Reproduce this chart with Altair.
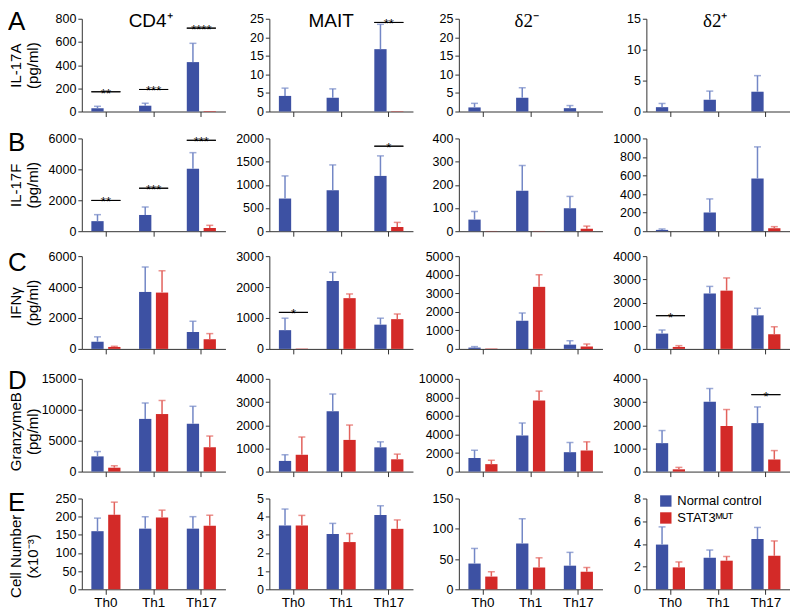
import altair as alt
import pandas as pd

CELLS = ["Th0", "Th1", "Th17"]
GROUPS = ["Normal control", "STAT3ᴹᵁᵀ"]
SUBSETS = ["CD4⁺", "MAIT", "δ2⁻", "δ2⁺"]
SUBSET_FONTS = ["Liberation Sans", "Liberation Sans", "Liberation Serif", "Liberation Serif"]
READOUTS = ["IL-17A", "IL-17F", "IFNγ", "GranzymeB", "Cell Number"]
UNITS = ["(pg/ml)", "(pg/ml)", "(pg/ml)", "(pg/ml)", "(x10⁻³)"]
LETTERS = ["A", "B", "C", "D", "E"]

# y-axis maximum and tick step, per readout (row) and subset (column)
Y_MAX = [[800, 25, 25, 15], [6000, 2000, 400, 1000], [6000, 3000, 5000, 4000],
         [15000, 4000, 10000, 4000], [250, 5, 150, 8]]
Y_STEP = [[200, 5, 5, 5], [2000, 500, 100, 200], [2000, 1000, 1000, 1000],
          [5000, 1000, 2000, 1000], [50, 1, 50, 2]]

# means and error (upper whisker length); outer list = subset, inner = Th0, Th1, Th17
IL17A_NC = [[28, 50, 426], [4.2, 3.7, 16.8], [1.1, 3.7, 0.9], [0.7, 1.9, 3.2]]
IL17A_NC_ERR = [[17, 22, 162], [2.1, 2.4, 6.7], [1.1, 2.7, 0.7], [0.6, 1.4, 2.6]]
IL17A_MUT = [[0, 0, 5], [0, 0, 0.1], [0, 0, 0], [0, 0, 0]]
IL17A_MUT_ERR = [[0, 0, 0], [0, 0, 0], [0, 0, 0], [0, 0, 0]]

IL17F_NC = [[650, 1050, 4040], [704, 885, 1192], [50, 174, 99], [14, 202, 568]]
IL17F_NC_ERR = [[420, 520, 1040], [488, 544, 432], [35, 109, 51], [10, 146, 341]]
IL17F_MUT = [[0, 0, 210], [0, 0, 90], [1, 1, 11], [0, 0, 31]]
IL17F_MUT_ERR = [[0, 0, 170], [0, 0, 100], [0, 0, 11], [0, 0, 18]]

IFNG_NC = [[463, 3684, 1095], [606, 2195, 784], [70, 1514, 229], [660, 2386, 1446]]
IFNG_NC_ERR = [[316, 1621, 694], [387, 282, 209], [53, 423, 211], [154, 309, 308]]
IFNG_MUT = [[126, 3642, 632], [10, 1641, 962], [20, 3345, 123], [84, 2512, 632]]
IFNG_MUT_ERR = [[42, 1411, 357], [0, 136, 167], [0, 651, 141], [56, 548, 322]]

GZMB_NC = [[2457, 8519, 7735], [460, 2606, 1045], [1463, 3902, 2090], [1226, 3010, 2090]]
GZMB_NC_ERR = [[783, 2561, 2822], [265, 739, 237], [837, 1324, 1046], [544, 572, 697]]
GZMB_MUT = [[627, 9303, 3920], [725, 1366, 530], [801, 7666, 2265], [98, 1965, 516]]
GZMB_MUT_ERR = [[314, 2194, 1829], [766, 641, 223], [419, 1010, 941], [83, 711, 390]]

CELLN_NC = [[160, 167, 167], [3.51, 3.04, 4.09], [42.5, 75.5, 39], [3.94, 2.78, 4.43]]
CELLN_NC_ERR = [[36, 33, 33], [0.91, 0.59, 0.51], [25, 41, 22], [1.56, 0.68, 1.02]]
CELLN_MUT = [[205, 198, 175], [3.51, 2.6, 3.33], [21, 36, 29], [1.93, 2.52, 2.95]]
CELLN_MUT_ERR = [[35, 20, 29], [0.56, 0.47, 0.49], [8, 16, 7], [0.48, 0.37, 1.31]]

SERIES = [
    (IL17A_NC, IL17A_NC_ERR, IL17A_MUT, IL17A_MUT_ERR),
    (IL17F_NC, IL17F_NC_ERR, IL17F_MUT, IL17F_MUT_ERR),
    (IFNG_NC, IFNG_NC_ERR, IFNG_MUT, IFNG_MUT_ERR),
    (GZMB_NC, GZMB_NC_ERR, GZMB_MUT, GZMB_MUT_ERR),
    (CELLN_NC, CELLN_NC_ERR, CELLN_MUT, CELLN_MUT_ERR),
]

# significance brackets: (row, subset, cell, bracket level, stars)
SIG = [
    (0, 0, "Th0", 170, "**"), (0, 0, "Th1", 190, "***"), (0, 0, "Th17", 719, "****"),
    (0, 1, "Th17", 24, "**"),
    (1, 0, "Th0", 1990, "**"), (1, 0, "Th1", 2780, "***"), (1, 0, "Th17", 5880, "***"),
    (1, 1, "Th17", 1833, "*"),
    (2, 1, "Th0", 1181, "*"), (2, 3, "Th0", 1432, "*"),
    (3, 3, "Th17", 3317, "*"),
]

BLUE, RED = "#3D51A3", "#D32A28"
BLUE_ERR, RED_ERR = "#7387C6", "#E2625C"
FONT = "Liberation Sans"
W, H, HE = 144, 93, 91
HEADER_DX = [-3, -10, -4, -3]          # header nudges per column
LETTER_Y = [-10, -8, -6, -11, -8]      # panel-letter top per row
TITLE_DY = [0, 0, 0, 6, 12]            # y-title nudges per row


def panel(r, s):
    nc, nce, mu, mue = SERIES[r]
    rows = []
    for i, c in enumerate(CELLS):
        rows.append(dict(cell=c, group=GROUPS[0], mean=nc[s][i], err=nce[s][i],
                         top=nc[s][i] + nce[s][i]))
        rows.append(dict(cell=c, group=GROUPS[1], mean=mu[s][i], err=mue[s][i],
                         top=mu[s][i] + mue[s][i]))
    df = pd.DataFrame(rows)
    h = HE if r == 4 else H
    ymax, step = Y_MAX[r][s], Y_STEP[r][s]

    yscale = alt.Scale(domain=[0, ymax], nice=False, zero=True)
    xscale = alt.Scale(domain=CELLS, paddingInner=0.39, paddingOuter=0.2)
    oscale = alt.Scale(domain=GROUPS, paddingInner=0.27, paddingOuter=0)

    common_y = dict(values=list(range(0, ymax + 1, step)), format="d", grid=False,
                    tickSize=4, labelPadding=2, minExtent=39, maxExtent=39)
    if s == 0:
        yaxis = alt.Axis(title=[READOUTS[r], UNITS[r]], titleFontSize=15,
                         titleLineHeight=17, titleFont=FONT, titleFontWeight="normal",
                         titlePadding=2, titleY=h / 2 + TITLE_DY[r], **common_y)
    else:
        yaxis = alt.Axis(title=None, **common_y)
    xaxis = alt.Axis(title=None, labels=(r == 4), ticks=True, tickSize=5, labelPadding=1,
                     labelFontSize=13.5, labelAngle=0, grid=False, domain=True)

    if r == 4 and s == 3:
        leg = alt.Legend(title=None, orient="none", legendX=13, legendY=-4,
                         symbolType="square", symbolSize=130, labelFontSize=13,
                         labelFont=FONT, rowPadding=3, padding=0, labelOffset=5,
                         symbolStrokeWidth=0)
    else:
        leg = None

    X = lambda: alt.X("cell:N", scale=xscale, axis=xaxis, sort=CELLS)
    XO = lambda: alt.XOffset("group:N", scale=oscale, sort=GROUPS)
    Y = lambda f: alt.Y(f, scale=yscale, axis=yaxis, stack=None)

    layers = [
        alt.Chart(df).mark_bar().encode(
            x=X(), xOffset=XO(), y=Y("mean:Q"),
            color=alt.Color("group:N", scale=alt.Scale(domain=GROUPS, range=[BLUE, RED]),
                            legend=leg),
        )
    ]
    for g, col in zip(GROUPS, [BLUE_ERR, RED_ERR]):
        d = df[(df.group == g) & (df.err > 0)]
        if len(d) == 0:
            continue
        layers.append(alt.Chart(d).mark_rule(color=col, strokeWidth=1.5).encode(
            x=X(), xOffset=XO(), y=Y("mean:Q"), y2="top:Q"))
        layers.append(alt.Chart(d).mark_tick(color=col, size=7, thickness=1.5).encode(
            x=X(), xOffset=XO(), y=Y("top:Q")))

    sig = [dict(cell=c, level=lv, stars=st) for (rr, ss, c, lv, st) in SIG if rr == r and ss == s]
    if sig:
        sdf = pd.DataFrame(sig)
        layers.append(alt.Chart(sdf).mark_bar(fillOpacity=0, stroke="black", strokeWidth=1).encode(
            x=X(), y=Y("level:Q"), y2="level:Q"))
        layers.append(alt.Chart(sdf).mark_text(fontSize=13, dy=2, font=FONT, color="black").encode(
            x=X(), y=Y("level:Q"), text="stars:N"))

    if r == 0:
        layers.append(alt.Chart(pd.DataFrame({"t": [SUBSETS[s]]})).mark_text(
            fontSize=19, font=SUBSET_FONTS[s], align="center", baseline="alphabetic",
            color="black").encode(x=alt.value(W / 2 + HEADER_DX[s]), y=alt.value(8),
                                  text="t:N"))
    if s == 0:
        layers.append(alt.Chart(pd.DataFrame({"t": [LETTERS[r]]})).mark_text(
            fontSize=26, font=FONT, align="left", baseline="top",
            color="black").encode(x=alt.value(-74), y=alt.value(LETTER_Y[r]), text="t:N"))

    return alt.layer(*layers).properties(width=W, height=h)


panels = [panel(r, s) for r in range(5) for s in range(4)]

chart = (
    alt.concat(*panels, columns=4, spacing={"row": 12, "column": 5}, align="each")
    .resolve_scale(color="independent")
    .properties(padding=0, background="white")
    .configure_view(stroke=None)
    .configure_axis(labelFont=FONT, labelFontSize=12.5, labelColor="black",
                    domainColor="#333333", tickColor="#333333", titleColor="black")
)

chart.save("out.html", embed_options={"renderer": "svg", "actions": False})
